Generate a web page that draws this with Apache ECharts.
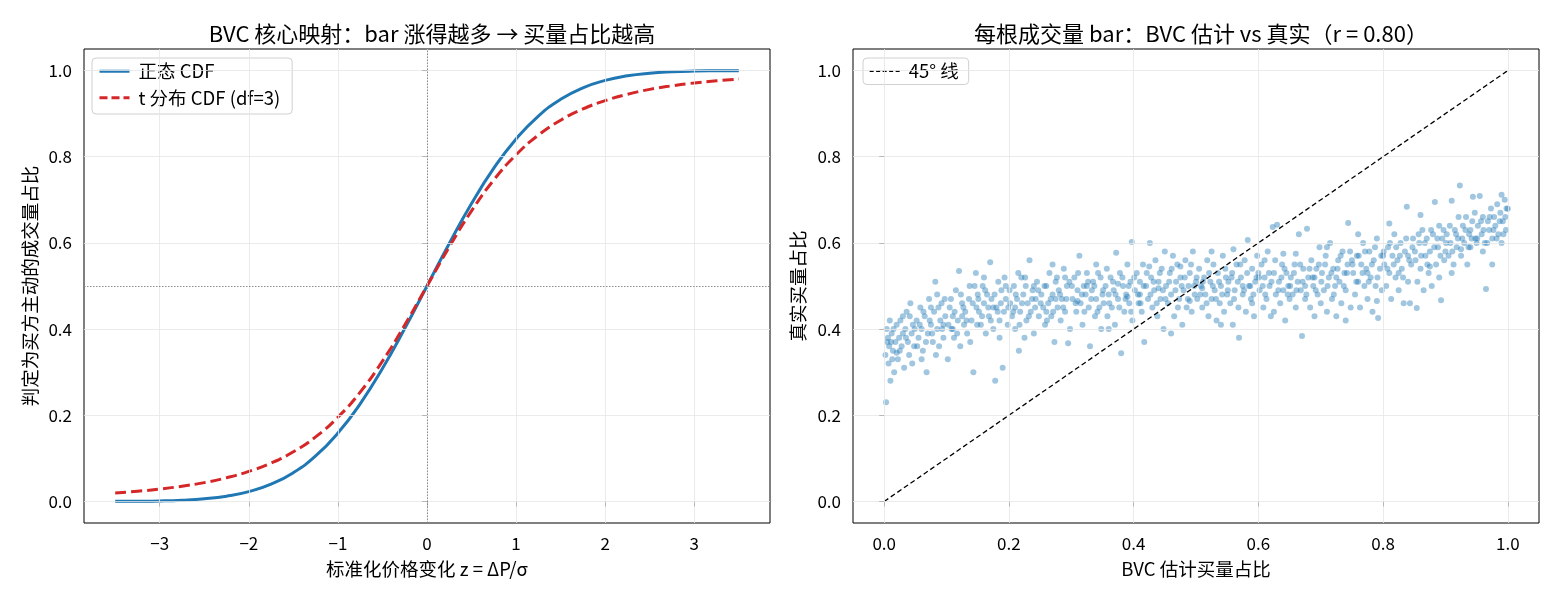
<!DOCTYPE html>
<html>
<head>
<meta charset="utf-8">
<script src="https://cdn.jsdelivr.net/npm/echarts@6/dist/echarts.min.js"></script>
<style>
  html, body { margin: 0; padding: 0; background: #fff; }
  #main { width: 1560px; height: 598px; }
</style>
</head>
<body>
<div id="main"></div>
<script>
// z 取值 (标准化价格变化)
var zVals = [-3.5, -3.25, -3, -2.75, -2.5, -2.25, -2, -1.75, -1.5, -1.25, -1, -0.75, -0.5, -0.25, 0,
             0.25, 0.5, 0.75, 1, 1.25, 1.5, 1.75, 2, 2.25, 2.5, 2.75, 3, 3.25, 3.5];
// 正态 CDF
var normalCdf = [0.0002, 0.0006, 0.0013, 0.0030, 0.0062, 0.0122, 0.0228, 0.0401, 0.0668, 0.1056, 0.1587, 0.2266, 0.3085, 0.4013, 0.5,
                 0.5987, 0.6915, 0.7734, 0.8413, 0.8944, 0.9332, 0.9599, 0.9772, 0.9878, 0.9938, 0.9970, 0.9987, 0.9994, 0.9998];
// t 分布 CDF (df=3)
var tCdf = [0.0198, 0.0237, 0.0288, 0.0354, 0.0437, 0.0550, 0.0697, 0.0892, 0.1153, 0.1499, 0.1955, 0.2538, 0.3257, 0.4094, 0.5,
            0.5906, 0.6743, 0.7462, 0.8045, 0.8501, 0.8847, 0.9108, 0.9303, 0.9450, 0.9563, 0.9646, 0.9712, 0.9763, 0.9802];

var zTicks = [-3, -2, -1, 0, 1, 2, 3];
var shareTicks = [0, 0.2, 0.4, 0.6, 0.8, 1.0];
var bvcTicks = [0, 0.2, 0.4, 0.6, 0.8, 1.0];

// 每根 bar: [BVC 估计买量占比, 真实买量占比]
var barPoints = [
  [0.003,0.23],[0.005,0.37],[0.006,0.38],[0.008,0.36],[0.01,0.28],[0.012,0.39],[0.014,0.35],[0.016,0.30],[0.018,0.37],[0.02,0.41],
  [0.022,0.33],[0.024,0.38],[0.026,0.42],[0.028,0.36],[0.03,0.39],[0.032,0.31],[0.034,0.40],[0.036,0.44],[0.038,0.37],[0.04,0.34],
  [0.042,0.46],[0.044,0.39],[0.046,0.41],[0.048,0.36],[0.03,0.43],[0.015,0.40],[0.045,0.32],[0.02,0.345],
  [0.052,0.42],[0.055,0.38],[0.058,0.45],[0.06,0.40],[0.062,0.35],[0.065,0.43],[0.068,0.30],[0.07,0.39],[0.072,0.47],[0.075,0.41],
  [0.078,0.37],[0.08,0.44],[0.082,0.51],[0.085,0.40],[0.088,0.36],[0.09,0.42],[0.092,0.46],[0.095,0.38],[0.098,0.43],[0.06,0.33],
  [0.075,0.45],[0.085,0.48],[0.095,0.41],
  [0.102,0.33],[0.105,0.45],[0.108,0.40],[0.11,0.43],[0.112,0.38],[0.115,0.49],[0.118,0.42],[0.12,0.535],[0.122,0.36],[0.125,0.46],
  [0.128,0.41],[0.13,0.44],[0.133,0.39],[0.136,0.47],[0.14,0.42],[0.143,0.30],[0.145,0.50],[0.147,0.53],[0.148,0.45],[0.11,0.40],
  [0.125,0.43],[0.138,0.37],[0.15,0.48],
  [0.152,0.44],[0.155,0.41],[0.158,0.50],[0.16,0.46],[0.163,0.39],[0.165,0.48],[0.168,0.43],[0.17,0.555],[0.172,0.47],[0.175,0.40],
  [0.178,0.28],[0.18,0.45],[0.183,0.51],[0.185,0.42],[0.188,0.49],[0.19,0.31],[0.192,0.44],[0.195,0.47],[0.198,0.41],[0.16,0.52],
  [0.175,0.45],[0.185,0.38],[0.195,0.50],
  [0.202,0.46],[0.205,0.43],[0.208,0.50],[0.21,0.40],[0.213,0.47],[0.216,0.35],[0.218,0.44],[0.22,0.52],[0.223,0.48],[0.226,0.52],
  [0.228,0.42],[0.23,0.46],[0.233,0.56],[0.235,0.44],[0.238,0.49],[0.24,0.39],[0.243,0.47],[0.245,0.51],[0.248,0.43],[0.21,0.45],
  [0.225,0.38],[0.24,0.50],[0.215,0.53],
  [0.252,0.48],[0.255,0.45],[0.258,0.41],[0.26,0.50],[0.263,0.46],[0.265,0.53],[0.268,0.43],[0.27,0.48],[0.273,0.37],[0.275,0.51],
  [0.278,0.45],[0.28,0.49],[0.283,0.42],[0.285,0.47],[0.288,0.54],[0.29,0.44],[0.293,0.50],[0.295,0.367],[0.298,0.40],[0.26,0.44],
  [0.275,0.47],[0.29,0.52],[0.27,0.55],
  [0.302,0.47],[0.305,0.52],[0.308,0.44],[0.31,0.49],[0.313,0.57],[0.315,0.46],[0.318,0.41],[0.32,0.50],[0.323,0.48],[0.325,0.53],
  [0.328,0.45],[0.33,0.36],[0.333,0.49],[0.335,0.51],[0.338,0.43],[0.34,0.47],[0.343,0.53],[0.345,0.45],[0.348,0.40],[0.31,0.465],
  [0.325,0.50],[0.34,0.55],[0.35,0.48],
  [0.352,0.46],[0.355,0.50],[0.358,0.43],[0.36,0.48],[0.363,0.52],[0.365,0.45],[0.368,0.49],[0.37,0.41],[0.372,0.577],[0.375,0.47],
  [0.378,0.53],[0.38,0.344],[0.383,0.50],[0.385,0.44],[0.388,0.48],[0.39,0.55],[0.393,0.46],[0.395,0.51],[0.397,0.602],[0.398,0.42],
  [0.36,0.40],[0.375,0.505],[0.39,0.475],
  [0.402,0.49],[0.405,0.53],[0.408,0.46],[0.41,0.51],[0.413,0.44],[0.415,0.55],[0.417,0.37],[0.42,0.50],[0.423,0.47],[0.426,0.60],
  [0.428,0.52],[0.43,0.45],[0.433,0.49],[0.435,0.56],[0.438,0.43],[0.44,0.51],[0.443,0.47],[0.445,0.54],[0.448,0.40],[0.41,0.48],
  [0.425,0.545],[0.44,0.495],[0.45,0.58],
  [0.452,0.50],[0.455,0.46],[0.458,0.53],[0.46,0.48],[0.463,0.57],[0.465,0.43],[0.468,0.51],[0.47,0.55],[0.473,0.47],[0.475,0.52],
  [0.478,0.41],[0.48,0.49],[0.483,0.56],[0.485,0.45],[0.488,0.50],[0.49,0.53],[0.493,0.44],[0.495,0.58],[0.498,0.48],[0.46,0.39],
  [0.475,0.545],[0.49,0.465],[0.5,0.51],
  [0.502,0.47],[0.505,0.54],[0.508,0.50],[0.51,0.45],[0.513,0.52],[0.515,0.48],[0.518,0.56],[0.52,0.43],[0.523,0.51],[0.525,0.47],
  [0.528,0.55],[0.53,0.49],[0.533,0.42],[0.535,0.53],[0.538,0.46],[0.54,0.50],[0.543,0.57],[0.545,0.44],[0.548,0.52],[0.51,0.495],
  [0.525,0.58],[0.54,0.41],[0.55,0.48],
  [0.552,0.51],[0.555,0.46],[0.558,0.53],[0.559,0.41],[0.562,0.49],[0.565,0.55],[0.568,0.45],[0.569,0.38],[0.572,0.52],[0.575,0.48],
  [0.578,0.56],[0.58,0.44],[0.583,0.607],[0.585,0.50],[0.588,0.47],[0.59,0.54],[0.593,0.43],[0.595,0.51],[0.598,0.57],[0.56,0.585],
  [0.575,0.50],[0.59,0.46],[0.6,0.53],
  [0.602,0.49],[0.605,0.55],[0.608,0.45],[0.61,0.52],[0.613,0.47],[0.615,0.58],[0.618,0.50],[0.62,0.43],[0.623,0.637],[0.625,0.53],
  [0.628,0.48],[0.63,0.642],[0.633,0.51],[0.635,0.46],[0.638,0.55],[0.64,0.49],[0.643,0.42],[0.645,0.53],[0.648,0.50],[0.61,0.56],
  [0.625,0.44],[0.64,0.575],[0.65,0.47],
  [0.652,0.52],[0.655,0.48],[0.658,0.55],[0.66,0.45],[0.663,0.51],[0.665,0.62],[0.668,0.49],[0.67,0.384],[0.672,0.54],[0.675,0.47],
  [0.678,0.633],[0.68,0.52],[0.683,0.45],[0.685,0.56],[0.688,0.50],[0.69,0.43],[0.693,0.54],[0.695,0.48],[0.698,0.59],[0.66,0.575],
  [0.675,0.50],[0.69,0.52],[0.7,0.46],
  [0.702,0.53],[0.705,0.49],[0.708,0.57],[0.71,0.44],[0.713,0.52],[0.715,0.60],[0.718,0.47],[0.72,0.54],[0.723,0.50],[0.725,0.43],
  [0.728,0.56],[0.73,0.51],[0.733,0.46],[0.735,0.58],[0.738,0.53],[0.74,0.49],[0.743,0.55],[0.744,0.646],[0.748,0.45],[0.71,0.59],
  [0.725,0.52],[0.74,0.42],[0.75,0.56],
  [0.752,0.53],[0.755,0.48],[0.758,0.57],[0.76,0.51],[0.763,0.45],[0.765,0.55],[0.768,0.60],[0.77,0.50],[0.773,0.54],[0.775,0.47],
  [0.778,0.58],[0.78,0.52],[0.783,0.44],[0.785,0.56],[0.788,0.50],[0.79,0.61],[0.792,0.426],[0.795,0.54],[0.798,0.49],[0.76,0.62],
  [0.775,0.53],[0.79,0.465],[0.8,0.57],
  [0.802,0.55],[0.805,0.50],[0.808,0.59],[0.81,0.53],[0.813,0.47],[0.815,0.57],[0.818,0.62],[0.82,0.52],[0.823,0.56],[0.825,0.49],
  [0.828,0.60],[0.83,0.54],[0.833,0.46],[0.835,0.58],[0.838,0.684],[0.84,0.51],[0.843,0.46],[0.845,0.55],[0.848,0.61],[0.81,0.645],
  [0.825,0.53],[0.84,0.57],[0.854,0.449],
  [0.852,0.56],[0.855,0.51],[0.858,0.60],[0.86,0.54],[0.863,0.63],[0.865,0.49],[0.868,0.57],[0.87,0.61],[0.873,0.53],[0.875,0.58],
  [0.878,0.50],[0.88,0.62],[0.883,0.695],[0.885,0.55],[0.888,0.59],[0.89,0.52],[0.893,0.467],[0.895,0.61],[0.898,0.56],[0.86,0.665],
  [0.875,0.545],[0.89,0.64],[0.9,0.58],
  [0.902,0.62],[0.905,0.57],[0.908,0.60],[0.91,0.698],[0.913,0.55],[0.915,0.63],[0.918,0.59],[0.92,0.61],[0.923,0.733],[0.925,0.57],
  [0.928,0.64],[0.93,0.60],[0.933,0.66],[0.935,0.55],[0.938,0.62],[0.94,0.59],[0.943,0.65],[0.944,0.707],[0.948,0.61],[0.91,0.53],
  [0.925,0.585],[0.94,0.63],[0.95,0.60],
  [0.952,0.64],[0.955,0.709],[0.958,0.62],[0.96,0.66],[0.963,0.60],[0.965,0.493],[0.968,0.65],[0.97,0.63],[0.973,0.68],[0.975,0.61],
  [0.978,0.66],[0.98,0.64],[0.983,0.69],[0.985,0.62],[0.988,0.67],[0.99,0.712],[0.992,0.65],[0.995,0.70],[0.997,0.63],[1.0,0.679],
  [0.96,0.58],[0.975,0.55],[0.99,0.60],[0.998,0.68],
  // 云团中部的密集点
  [0.002,0.34],[0.004,0.40],[0.007,0.32],[0.009,0.42],[0.011,0.37],[0.013,0.33],[0.025,0.35],[0.035,0.38],[0.041,0.43],[0.049,0.40],
  [0.053,0.36],[0.057,0.41],[0.063,0.44],[0.067,0.37],[0.073,0.42],[0.077,0.39],[0.083,0.34],[0.087,0.45],[0.093,0.40],[0.097,0.47],
  [0.103,0.41],[0.107,0.47],[0.113,0.44],[0.117,0.39],[0.123,0.48],[0.127,0.45],[0.132,0.42],[0.137,0.50],[0.142,0.46],[0.149,0.41],
  [0.151,0.47],[0.157,0.43],[0.162,0.49],[0.167,0.45],[0.171,0.42],[0.177,0.48],[0.182,0.44],[0.187,0.46],[0.193,0.52],[0.199,0.45],
  [0.201,0.49],[0.207,0.44],[0.211,0.48],[0.217,0.41],[0.221,0.46],[0.227,0.50],[0.232,0.43],[0.237,0.47],[0.242,0.45],[0.247,0.49],
  [0.251,0.46],[0.257,0.50],[0.261,0.42],[0.267,0.47],[0.271,0.44],[0.277,0.52],[0.282,0.48],[0.287,0.45],[0.292,0.47],[0.297,0.51],
  [0.301,0.50],[0.307,0.46],[0.311,0.53],[0.317,0.48],[0.321,0.44],[0.327,0.51],[0.332,0.47],[0.337,0.50],[0.342,0.44],[0.347,0.52],
  [0.351,0.49],[0.357,0.54],[0.361,0.46],[0.367,0.51],[0.371,0.48],[0.377,0.45],[0.382,0.52],[0.387,0.47],[0.392,0.50],[0.396,0.44],
  [0.401,0.52],[0.407,0.48],[0.411,0.46],[0.416,0.50],[0.421,0.53],[0.427,0.48],[0.432,0.51],[0.437,0.46],[0.442,0.53],[0.447,0.49],
  [0.451,0.47],[0.457,0.51],[0.461,0.54],[0.467,0.49],[0.471,0.45],[0.477,0.50],[0.482,0.52],[0.487,0.47],[0.492,0.55],[0.497,0.50],
  [0.501,0.52],[0.507,0.48],[0.511,0.51],[0.517,0.46],[0.521,0.53],[0.527,0.50],[0.532,0.47],[0.537,0.51],[0.542,0.48],[0.547,0.54],
  [0.551,0.49],[0.557,0.52],[0.561,0.47],[0.567,0.51],[0.571,0.55],[0.577,0.49],[0.582,0.53],[0.587,0.50],[0.592,0.48],[0.597,0.52],
  [0.601,0.52],[0.607,0.50],[0.611,0.48],[0.617,0.53],[0.621,0.51],[0.627,0.56],[0.632,0.49],[0.637,0.52],[0.642,0.54],[0.647,0.48],
  [0.651,0.50],[0.657,0.53],[0.661,0.49],[0.667,0.55],[0.671,0.51],[0.677,0.48],[0.682,0.54],[0.687,0.52],[0.692,0.49],[0.697,0.55],
  [0.701,0.51],[0.707,0.55],[0.711,0.50],[0.717,0.53],[0.721,0.48],[0.727,0.54],[0.732,0.57],[0.737,0.50],[0.742,0.53],[0.747,0.58],
  [0.751,0.55],[0.757,0.51],[0.761,0.57],[0.767,0.53],[0.771,0.58],[0.777,0.51],[0.782,0.55],[0.787,0.59],[0.791,0.52],[0.797,0.57],
  [0.801,0.58],[0.807,0.54],[0.811,0.60],[0.817,0.55],[0.821,0.59],[0.827,0.57],[0.832,0.52],[0.837,0.61],[0.842,0.56],[0.847,0.59],
  [0.851,0.58],[0.857,0.62],[0.861,0.57],[0.867,0.60],[0.871,0.55],[0.877,0.63],[0.882,0.59],[0.887,0.61],[0.892,0.57],[0.897,0.63],
  [0.901,0.60],[0.907,0.64],[0.911,0.58],[0.917,0.62],[0.921,0.66],[0.927,0.61],[0.932,0.63],[0.937,0.59],[0.942,0.61],[0.947,0.67],
  [0.951,0.61],[0.957,0.65],[0.961,0.63],[0.967,0.60],[0.971,0.66],[0.977,0.63],[0.982,0.61],[0.987,0.65],[0.993,0.62],[0.996,0.66]
];
var diagLine = [[0, 0], [1, 1]];

var FONT = '"Noto Sans CJK SC", "DejaVu Sans", sans-serif';

function fmtZ(v) {
    return v < 0 ? '\u2212' + Math.abs(v) : String(v);
}

function gridLines(xs, ys) {
    var d = [];
    xs.forEach(function (v) { d.push({xAxis: v}); });
    ys.forEach(function (v) { d.push({yAxis: v}); });
    return d;
}

function axisCommon(ticks, fmt) {
    return {
        axisLine: {show: false},
        axisTick: {show: true, length: 5, customValues: ticks, lineStyle: {color: '#000', width: 1}},
        axisLabel: {customValues: ticks, formatter: fmt, color: '#000', fontSize: 17, fontFamily: FONT, margin: 12},
        splitLine: {show: false},
        nameTextStyle: {color: '#000', fontSize: 18.5, fontFamily: FONT}
    };
}

function build() {
    var myChart = echarts.init(document.getElementById('main'));

    var lx = axisCommon(zTicks, fmtZ);
    var ly = axisCommon(shareTicks, function (v) { return v.toFixed(1); });
    var rx = axisCommon(bvcTicks, function (v) { return v.toFixed(1); });
    var ry = axisCommon(shareTicks, function (v) { return v.toFixed(1); });

    var legendBase = {
        orient: 'vertical', itemWidth: 30, itemHeight: 14, itemGap: 8,
        borderColor: '#d0d0d0', borderWidth: 1, borderRadius: 4,
        backgroundColor: 'rgba(255,255,255,0.85)',
        itemStyle: {opacity: 0},
        textStyle: {fontSize: 18.5, color: '#000', fontFamily: FONT, padding: [0, 0, 0, 4]}
    };

    var option = {
        animation: false,
        backgroundColor: '#fff',
        textStyle: {fontFamily: FONT},
        title: [
            {text: 'BVC 核心映射：bar 涨得越多 → 买量占比越高', left: 427, top: 18, textAlign: 'center',
             textStyle: {fontSize: 22, fontWeight: 'normal', color: '#000', fontFamily: FONT}},
            {text: '每根成交量 bar：BVC 估计 vs 真实（r = 0.80）', left: 1196, top: 18, textAlign: 'center',
             textStyle: {fontSize: 22, fontWeight: 'normal', color: '#000', fontFamily: FONT}}
        ],
        legend: [
            Object.assign({}, legendBase, {
                left: 92, top: 58, padding: [4, 12, 7, 6],
                data: [
                    {name: '正态 CDF', icon: 'path://M0,0H30V3H0Z', itemStyle: {color: '#1f77b4', opacity: 1, borderWidth: 0}},
                    {name: 't 分布 CDF (df=3)', lineStyle: {color: '#d62728', width: 3, type: [8, 4], opacity: 1}}
                ]
            }),
            Object.assign({}, legendBase, {
                left: 863, top: 58, padding: [4, 10, 4, 6],
                data: [{name: '45° 线', lineStyle: {color: '#000', width: 1.3, type: [4, 2.5], opacity: 1}}]
            })
        ],
        grid: [
            {left: 84, right: 790, top: 49, bottom: 75, show: true, borderColor: '#000', borderWidth: 1, backgroundColor: 'transparent'},
            {left: 853, right: 21, top: 49, bottom: 75, show: true, borderColor: '#000', borderWidth: 1, backgroundColor: 'transparent'}
        ],
        xAxis: [
            Object.assign(lx, {type: 'value', gridIndex: 0, min: -3.85, max: 3.85,
                name: '标准化价格变化 z = ΔP/σ', nameLocation: 'middle', nameGap: 37}),
            Object.assign(rx, {type: 'value', gridIndex: 1, min: -0.05, max: 1.05,
                name: 'BVC 估计买量占比', nameLocation: 'middle', nameGap: 37})
        ],
        yAxis: [
            Object.assign(ly, {type: 'value', gridIndex: 0, min: -0.05, max: 1.05,
                name: '判定为买方主动的成交量占比', nameLocation: 'middle', nameGap: 45}),
            Object.assign(ry, {type: 'value', gridIndex: 1, min: -0.05, max: 1.05,
                name: '真实买量占比', nameLocation: 'middle', nameGap: 46})
        ],
        series: [
            {
                name: 'grid-left', type: 'line', xAxisIndex: 0, yAxisIndex: 0, data: [], silent: true, z: 1,
                markLine: {
                    silent: true, symbol: ['none', 'none'], label: {show: false}, animation: false,
                    lineStyle: {color: '#e6e6e6', width: 0.8, type: 'solid'},
                    emphasis: {disabled: true},
                    data: gridLines(zTicks, shareTicks)
                }
            },
            {
                name: 'ref-left', type: 'line', xAxisIndex: 0, yAxisIndex: 0, data: [], silent: true, z: 2,
                markLine: {
                    silent: true, symbol: ['none', 'none'], label: {show: false}, animation: false,
                    lineStyle: {color: '#808080', width: 0.9, type: [1.5, 1.5]},
                    emphasis: {disabled: true},
                    data: [{xAxis: 0}, {yAxis: 0.5}]
                }
            },
            {
                name: 'grid-right', type: 'line', xAxisIndex: 1, yAxisIndex: 1, data: [], silent: true, z: 1,
                markLine: {
                    silent: true, symbol: ['none', 'none'], label: {show: false}, animation: false,
                    lineStyle: {color: '#e6e6e6', width: 0.8, type: 'solid'},
                    emphasis: {disabled: true},
                    data: gridLines(bvcTicks, shareTicks)
                }
            },
            {
                name: '正态 CDF', type: 'line', xAxisIndex: 0, yAxisIndex: 0, z: 3,
                data: zVals.map(function (z, i) { return [z, normalCdf[i]]; }),
                smooth: true, showSymbol: false, symbol: 'none',
                lineStyle: {color: '#1f77b4', width: 3}, itemStyle: {color: '#1f77b4'}
            },
            {
                name: 't 分布 CDF (df=3)', type: 'line', xAxisIndex: 0, yAxisIndex: 0, z: 4,
                data: zVals.map(function (z, i) { return [z, tCdf[i]]; }),
                smooth: true, showSymbol: false, symbol: 'none',
                lineStyle: {color: '#d62728', width: 3, type: [11, 5]}, itemStyle: {color: '#d62728'}
            },
            {
                name: 'bars', type: 'scatter', xAxisIndex: 1, yAxisIndex: 1, z: 3,
                data: barPoints, symbolSize: 6,
                itemStyle: {color: '#1f77b4', opacity: 0.42, borderWidth: 0}
            },
            {
                name: '45° 线', type: 'line', xAxisIndex: 1, yAxisIndex: 1, z: 4,
                data: diagLine, showSymbol: false, symbol: 'none',
                lineStyle: {color: '#000', width: 1.3, type: [5, 3]}, itemStyle: {color: '#000'}
            }
        ]
    };

    myChart.setOption(option);
}

build();
</script>
</body>
</html>
